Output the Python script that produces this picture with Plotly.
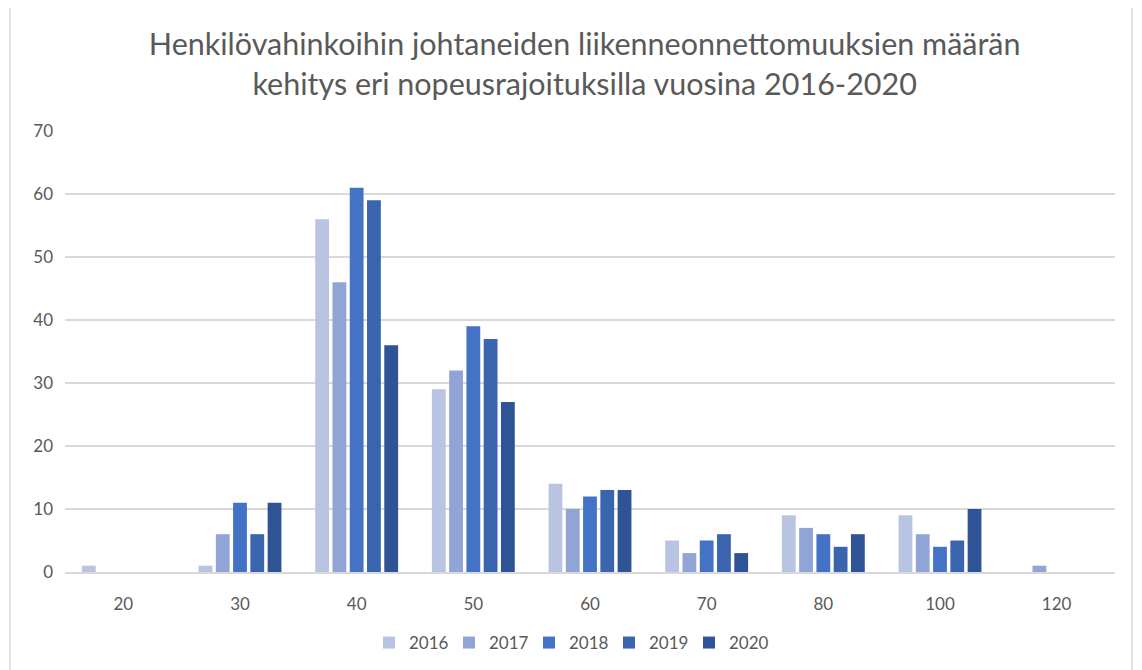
import plotly.graph_objects as go

categories = ["20", "30", "40", "50", "60", "70", "80", "100", "120"]
years = ["2016", "2017", "2018", "2019", "2020"]
v2016 = [1, 1, 56, 29, 14, 5, 9, 9, 0]
v2017 = [0, 6, 46, 32, 10, 3, 7, 6, 1]
v2018 = [0, 11, 61, 39, 12, 5, 6, 4, 0]
v2019 = [0, 6, 59, 37, 13, 6, 4, 5, 0]
v2020 = [0, 11, 36, 27, 13, 3, 6, 10, 0]
series = [v2016, v2017, v2018, v2019, v2020]
colors = ["#B9C4E3", "#90A4D5", "#4472C4", "#3A64AD", "#2F5496"]

font_family = "Lato, 'Open Sans', sans-serif"
gray = "#595959"

fig = go.Figure()
for name, vals, col in zip(years, series, colors):
    fig.add_trace(go.Bar(x=categories, y=vals, name=name,
                         marker=dict(color=col, line=dict(width=0))))

fig.update_layout(
    width=1142, height=670,
    paper_bgcolor="white", plot_bgcolor="white",
    margin=dict(l=57, r=35, t=123, b=106, autoexpand=False),
    barmode="group", bargap=0.26, bargroupgap=0.2,
    font=dict(family=font_family, color=gray, size=17),
    title=dict(text="Henkilövahinkoihin johtaneiden liikenneonnettomuuksien määrän<br>kehitys eri nopeusrajoituksilla vuosina 2016-2020",
               x=0.505, xanchor="center", y=0.93, yanchor="middle",
               font=dict(size=30.5, color=gray, family=font_family)),
    showlegend=True,
    legend=dict(orientation="h", x=0.48, xanchor="center", y=-0.161, yanchor="middle",
                itemwidth=30, entrywidth=35, entrywidthmode="pixels",
                font=dict(size=17, color=gray), traceorder="normal"),
    xaxis=dict(type="category", showgrid=False, showline=True, linecolor="#D9D9D9",
               linewidth=2, ticks="", ticklabelstandoff=16, tickfont=dict(size=17, color=gray)),
    yaxis=dict(range=[0, 70], dtick=10, showgrid=True, gridcolor="#D9D9D9", gridwidth=1.5,
               zeroline=False, showline=False, ticks="", ticklabelstandoff=11,
               tickfont=dict(size=17, color=gray)),
    shapes=[dict(type="rect", xref="paper", yref="paper",
                 x0=-0.0524, x1=1.0162, y0=-0.23, y1=1.281,
                 line=dict(color="#D9D9D9", width=1.5), fillcolor="rgba(0,0,0,0)", layer="below")],
)

fig.write_html("out.html")
